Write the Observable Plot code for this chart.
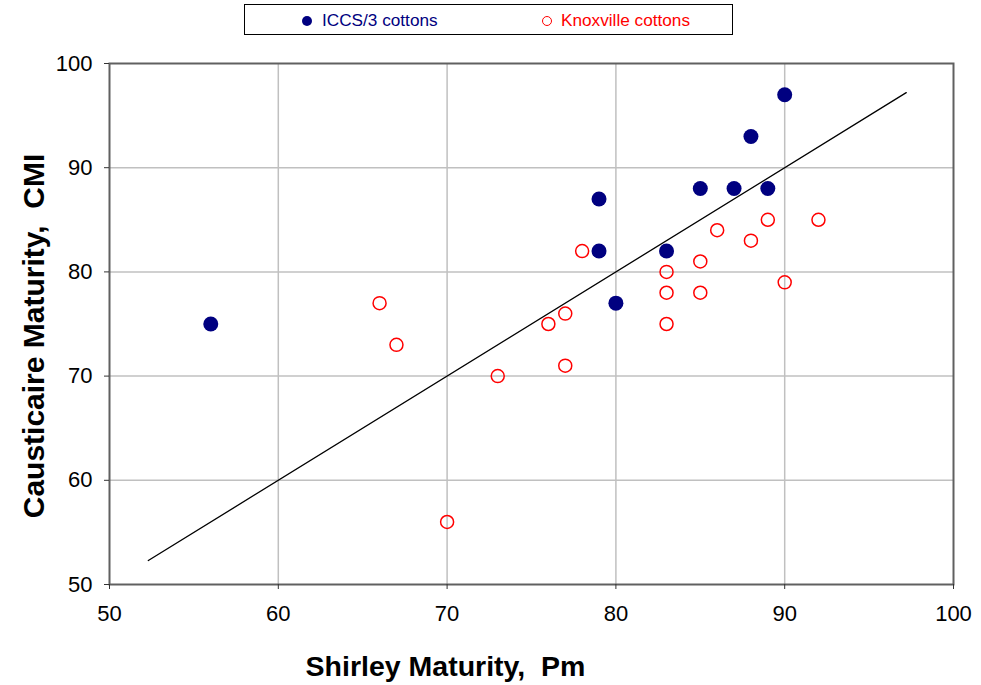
<!DOCTYPE html>
<html><head><meta charset="utf-8">
<script src="https://cdn.jsdelivr.net/npm/d3@7"></script>
<script src="https://cdn.jsdelivr.net/npm/@observablehq/plot@0.6"></script>
<style>
body{margin:0;background:#fff;font-family:Arial,"Liberation Sans",sans-serif;}
#legend{position:relative;height:40px;width:981px;}
#legend .box{position:absolute;left:244px;top:4px;width:489px;height:31px;border:1px solid #000;box-sizing:border-box;}
#legend .sym{position:absolute;border-radius:50%;box-sizing:border-box;}
#legend .lab{position:absolute;top:10px;font-size:17.2px;line-height:20px;white-space:nowrap;}
</style></head>
<body>
<div id="legend">
  <div class="box"></div>
  <div class="sym" style="left:302px;top:16px;width:10px;height:10px;background:#000080;"></div>
  <div class="lab" style="left:322px;color:#000080;">ICCS/3 cottons</div>
  <div class="sym" style="left:542px;top:16px;width:10px;height:10px;border:1.5px solid #ff0000;"></div>
  <div class="lab" style="left:561px;color:#ff0000;">Knoxville cottons</div>
</div>
<div id="chart"></div>
<script>
const iccsX = [56, 79, 79, 80, 83, 85, 87, 88, 89, 90];
const iccsY = [75, 87, 82, 77, 82, 88, 88, 93, 88, 97];
const knoxX = [66, 67, 70, 73, 76, 77, 77, 78, 83, 83, 83, 85, 85, 86, 88, 89, 90, 92];
const knoxY = [77, 73, 56, 70, 75, 76, 71, 82, 80, 78, 75, 81, 78, 84, 83, 85, 79, 85];
const lineX = [52.3, 97.2];
const lineY = [52.3, 97.2];
const xTicks = [50, 60, 70, 80, 90, 100];
const yTicks = [50, 60, 70, 80, 90, 100];
const gridVals = [60, 70, 80, 90];

const iccs = iccsX.map((x, i) => ({x, y: iccsY[i]}));
const knox = knoxX.map((x, i) => ({x, y: knoxY[i]}));
const fit = lineX.map((x, i) => ({x, y: lineY[i]}));

const chart = Plot.plot({
  width: 981, height: 645,
  marginTop: 23, marginBottom: 101, marginLeft: 109, marginRight: 28,
  x: {domain: [50, 100]},
  y: {domain: [50, 100]},
  style: {fontFamily: "Arial, 'Liberation Sans', sans-serif", fontSize: "22px", color: "#000", background: "#fff", overflow: "visible"},
  marks: [
    Plot.gridX(gridVals, {stroke: "#c0c0c0", strokeOpacity: 1, strokeWidth: 1.5}),
    Plot.gridY(gridVals, {stroke: "#c0c0c0", strokeOpacity: 1, strokeWidth: 1.5}),
    Plot.frame({stroke: "#606060", strokeWidth: 2}),
    Plot.axisX({ticks: xTicks, tickSize: 5, tickPadding: 16, label: null, fontSize: 22, stroke: "#333"}),
    Plot.axisY({ticks: yTicks, tickSize: 5, tickPadding: 12, label: null, fontSize: 22, stroke: "#333"}),
    Plot.line(fit, {x: "x", y: "y", stroke: "#000", strokeWidth: 1.3}),
    Plot.dot(knox, {x: "x", y: "y", r: 6.5, stroke: "#ff0000", strokeWidth: 1.5, fill: "none"}),
    Plot.dot(iccs, {x: "x", y: "y", r: 7.5, fill: "#000080", stroke: "none"}),
    Plot.text(["Shirley Maturity,\u00a0 Pm"], {frameAnchor: "bottom", textAnchor: "middle", lineAnchor: "middle", dx: -86, dy: 82, fontSize: 28.5, fontWeight: "bold", fill: "#000"}),
    Plot.text(["Causticaire Maturity,\u00a0 CMI"], {frameAnchor: "left", textAnchor: "middle", lineAnchor: "middle", rotate: -90, dx: -75, dy: 12, fontSize: 30, fontWeight: "bold", fill: "#000"})
  ]
});
document.getElementById("chart").appendChild(chart);
</script>
</body></html>
